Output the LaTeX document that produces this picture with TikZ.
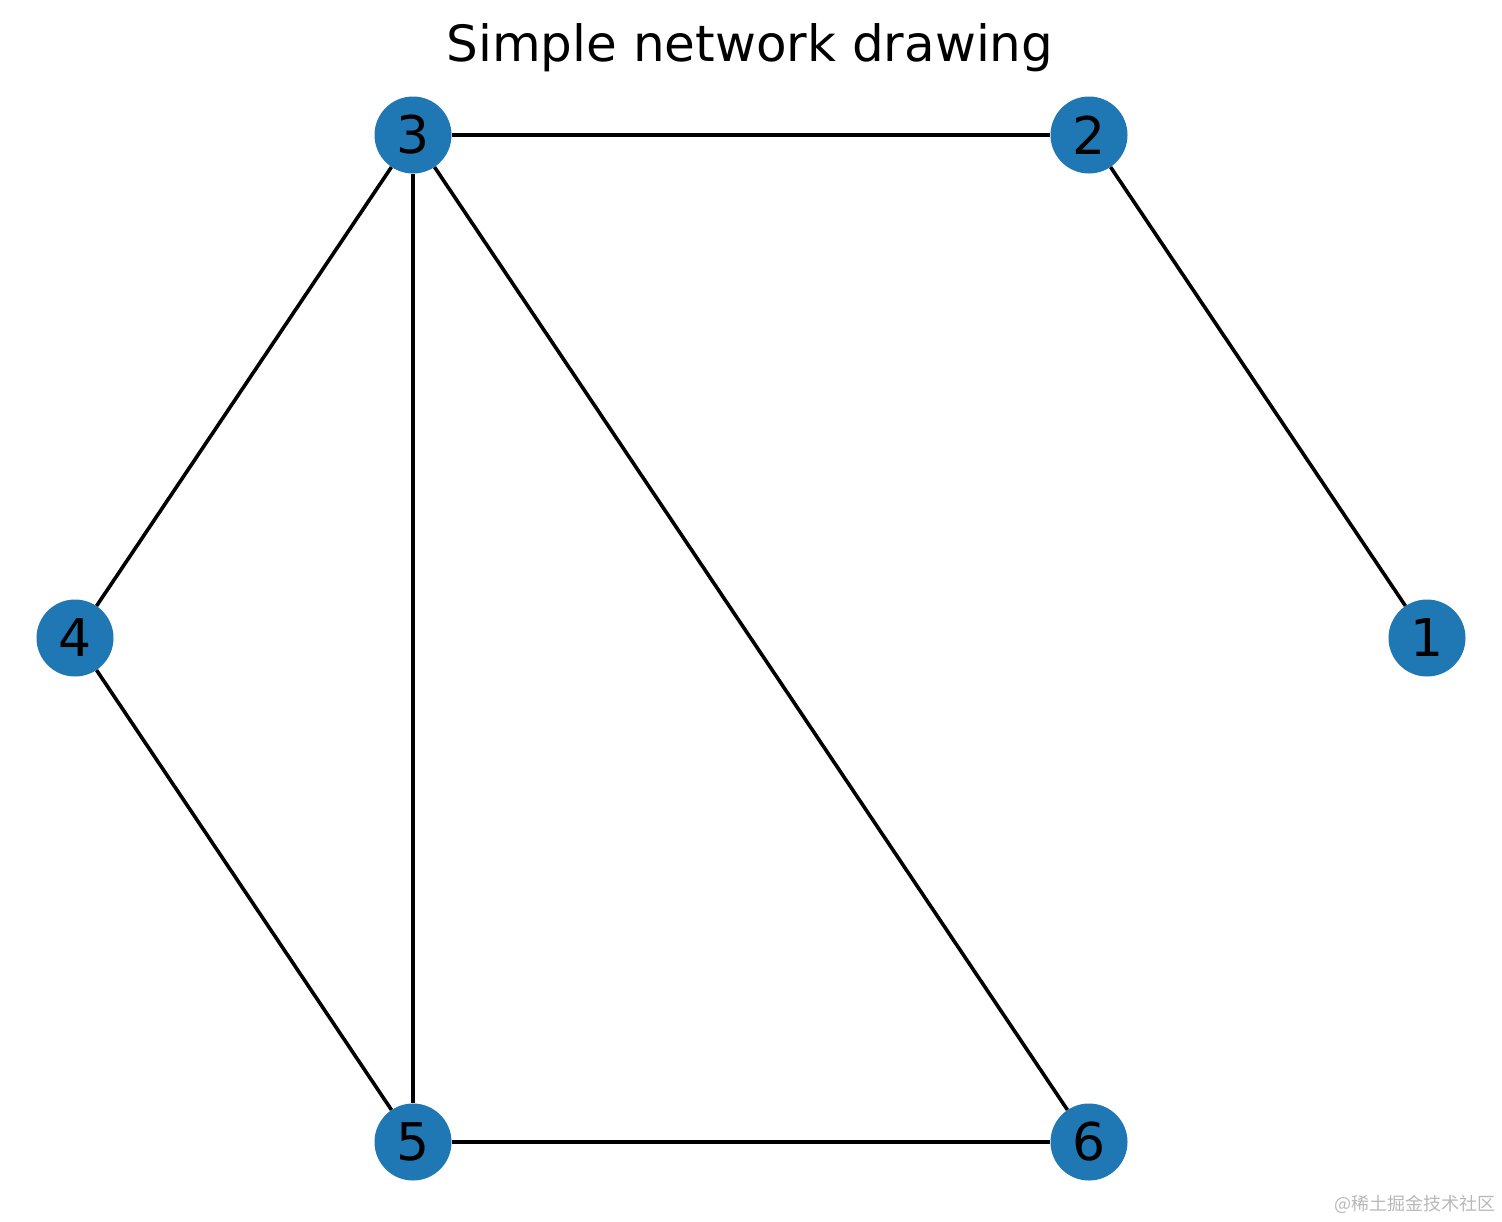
\documentclass[tikz,border=0pt]{standalone}
\usepackage{fontspec}
\setmainfont{DejaVu Sans}
\newfontfamily\cjkfont{Noto Sans CJK SC}
\definecolor{mplblue}{HTML}{1F77B4}
\definecolor{wmgray}{HTML}{B8B8B8}
\begin{document}
\begin{tikzpicture}[x=1pt,y=-1pt,
  vtx/.style={circle,fill=mplblue,minimum size=77pt,inner sep=0pt,font=\fontsize{52}{52}\selectfont},
  edge/.style={draw=black,line width=3.6pt}]
\useasboundingbox (0,0) rectangle (1502,1221);
\node[anchor=base,inner sep=0pt] (t) at (750,61) {\fontsize{50}{50}\selectfont Simple network drawing};
\node[vtx] (n3) at (413,135) {3};
\node[vtx] (n2) at (1089,135) {2};
\node[vtx] (n4) at (75,638) {4};
\node[vtx] (n1) at (1427,638) {1};
\node[vtx] (n5) at (413,1142) {5};
\node[vtx] (n6) at (1089,1142) {6};
\draw[edge] (n3) -- (n2);
\draw[edge] (n2) -- (n1);
\draw[edge] (n3) -- (n4);
\draw[edge] (n3) -- (n5);
\draw[edge] (n3) -- (n6);
\draw[edge] (n4) -- (n5);
\draw[edge] (n5) -- (n6);
\node[anchor=east,text=wmgray,inner sep=0pt] (wm) at (1496,1204) {\cjkfont\fontsize{18}{18}\selectfont @稀土掘金技术社区};
\end{tikzpicture}
\end{document}
